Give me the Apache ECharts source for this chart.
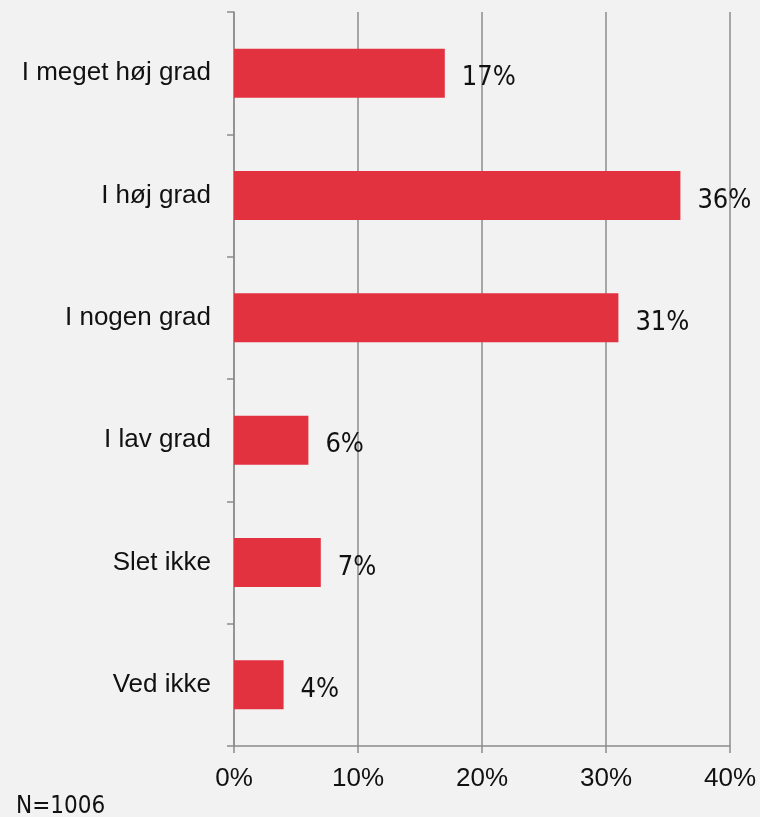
<!DOCTYPE html>
<html>
<head>
<meta charset="utf-8">
<script src="https://cdn.jsdelivr.net/npm/echarts@6/dist/echarts.min.js"></script>
<style>
  html, body { margin: 0; padding: 0; background: #f2f2f2; }
  #chart { width: 760px; height: 817px; }
</style>
</head>
<body>
<div id="chart"></div>
<script>
// Survey answers, top to bottom
const categories = ['I meget høj grad', 'I høj grad', 'I nogen grad', 'I lav grad', 'Slet ikke', 'Ved ikke'];
// Share of respondents, percent
const shares = [17, 36, 31, 6, 7, 4];
// Horizontal axis ticks, percent
const xTicks = [0, 10, 20, 30, 40];
const sampleNote = 'N=1006';

const chart = echarts.init(document.getElementById('chart'), null, { renderer: 'canvas' });
const gray = '#8c8c8c';
const textFont = '"Liberation Sans", Arial, sans-serif';
const numFont = '"Liberation Sans Narrow", "DejaVu Sans Condensed", "Liberation Sans", sans-serif';

chart.setOption({
  backgroundColor: '#f2f2f2',
  animation: false,
  graphic: [{
    type: 'text',
    left: 16,
    top: 795,
    style: { text: sampleNote, font: '24px ' + numFont, fill: '#111' }
  }],
  grid: { left: 234, right: 30, top: 12, bottom: 71, containLabel: false },
  xAxis: {
    type: 'value',
    min: xTicks[0],
    max: xTicks[xTicks.length - 1],
    interval: xTicks[1] - xTicks[0],
    axisLine: { show: true, lineStyle: { color: gray, width: 1.5 } },
    axisTick: { show: true, length: 7, lineStyle: { color: gray, width: 1.5 } },
    splitLine: { show: true, lineStyle: { color: gray, width: 1.5 } },
    axisLabel: {
      formatter: v => v + '%',
      color: '#111',
      fontSize: 26,
      fontFamily: textFont,
      margin: 20
    }
  },
  yAxis: {
    type: 'category',
    data: categories,
    inverse: true,
    axisLine: { show: true, lineStyle: { color: gray, width: 1.5 } },
    axisTick: { show: true, length: 7, inside: false, alignWithLabel: false, lineStyle: { color: gray, width: 1.5 } },
    axisLabel: {
      color: '#111',
      fontSize: 26,
      fontFamily: textFont,
      margin: 23
    },
    splitLine: { show: false }
  },
  series: [{
    type: 'bar',
    data: shares,
    barWidth: '40%',
    itemStyle: { color: '#e3323f' },
    label: {
      show: true,
      position: 'right',
      distance: 17,
      offset: [0, 5],
      formatter: p => p.value + '%',
      color: '#111',
      fontSize: 27,
      fontFamily: numFont
    }
  }]
});
</script>
</body>
</html>
